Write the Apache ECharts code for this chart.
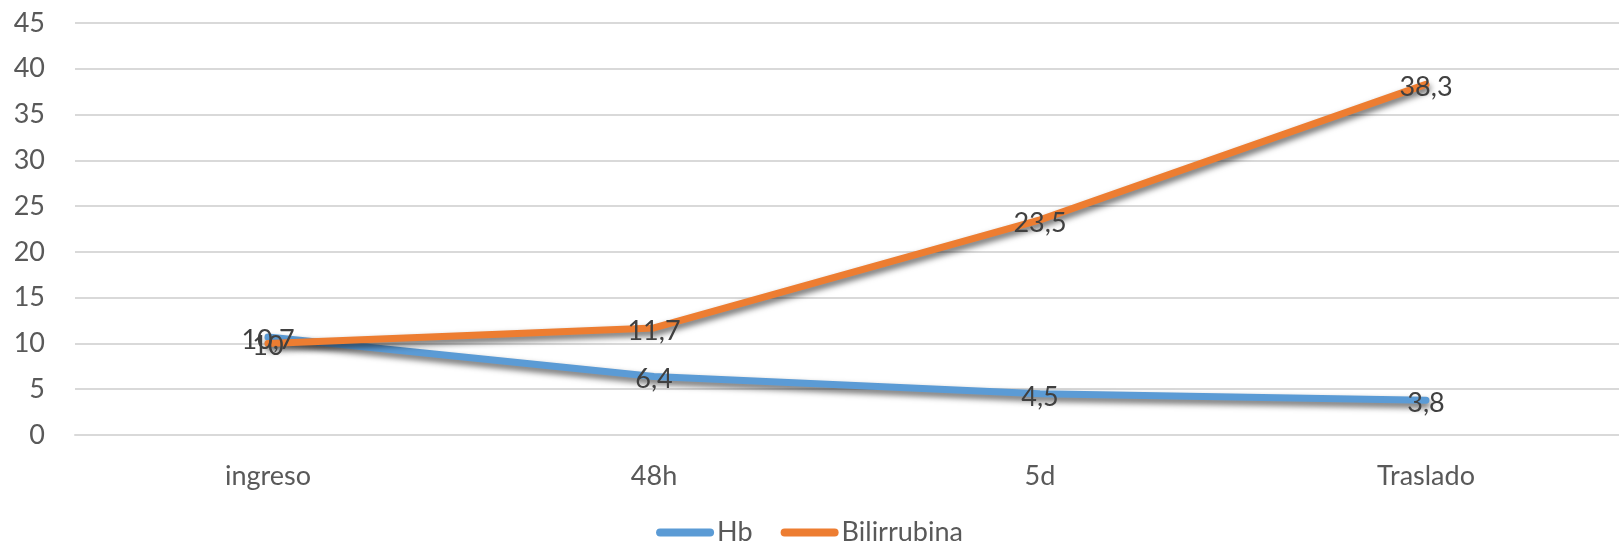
<!DOCTYPE html>
<html>
<head>
<meta charset="utf-8">
<script src="https://cdn.jsdelivr.net/npm/echarts@6/dist/echarts.min.js"></script>
<style>
html,body{margin:0;padding:0;background:#fff;}
#c{width:1619px;height:553px;}
</style>
</head>
<body>
<div id="c"></div>
<script>
var categories = ['ingreso', '48h', '5d', 'Traslado'];
var hb = [10.7, 6.4, 4.5, 3.8];
var bilirrubina = [10, 11.7, 23.5, 38.3];
var seriesNames = ['Hb', 'Bilirrubina'];

var FONT = 'Lato';
var FS = 27;
var chart = echarts.init(document.getElementById('c'));
function fmt(p){ return String(p.value).replace('.', ','); }
function mkSeries(name, data, color){
  return {
    name: name, type: 'line', data: data,
    symbol: 'circle', showSymbol: true, symbolSize: 2,
    lineStyle: {color: color, width: 7, cap: 'round', join: 'round',
      shadowColor: 'rgba(0,0,0,0.6)', shadowBlur: 6, shadowOffsetY: 4, shadowOffsetX: 1},
    itemStyle: {color: color},
    label: {show: true, position: 'inside', offset: [0, 3], formatter: fmt,
      color: '#404040', fontFamily: FONT, fontSize: FS},
    emphasis: {disabled: true},
    animation: false
  };
}
var legendIcon = 'path://M4,0 L54,0 A4,4 0 0 1 54,8 L4,8 A4,4 0 0 1 4,0 Z';
chart.setOption({
  animation: false,
  grid: {left: 75, right: 0, top: 23, bottom: 118, containLabel: false},
  legend: {
    bottom: 2, left: 'center', itemWidth: 58, itemHeight: 8, itemGap: 28,
    icon: legendIcon,
    textStyle: {color: '#595959', fontFamily: FONT, fontSize: FS, padding: [0,0,0,-2]},
    data: seriesNames
  },
  xAxis: {
    type: 'category', data: categories, boundaryGap: true,
    axisLine: {show: true, lineStyle: {color: '#d9d9d9', width: 2}},
    axisTick: {show: false},
    axisLabel: {color: '#595959', fontFamily: FONT, fontSize: FS, margin: 28}
  },
  yAxis: {
    type: 'value', min: 0, max: 45, interval: 5,
    axisLine: {show: false}, axisTick: {show: false},
    splitLine: {lineStyle: {color: '#d9d9d9', width: 2}},
    axisLabel: {color: '#595959', fontFamily: FONT, fontSize: FS, margin: 30}
  },
  series: [
    mkSeries(seriesNames[0], hb, '#5B9BD5'),
    mkSeries(seriesNames[1], bilirrubina, '#ED7D31')
  ]
});
</script>
</body>
</html>
